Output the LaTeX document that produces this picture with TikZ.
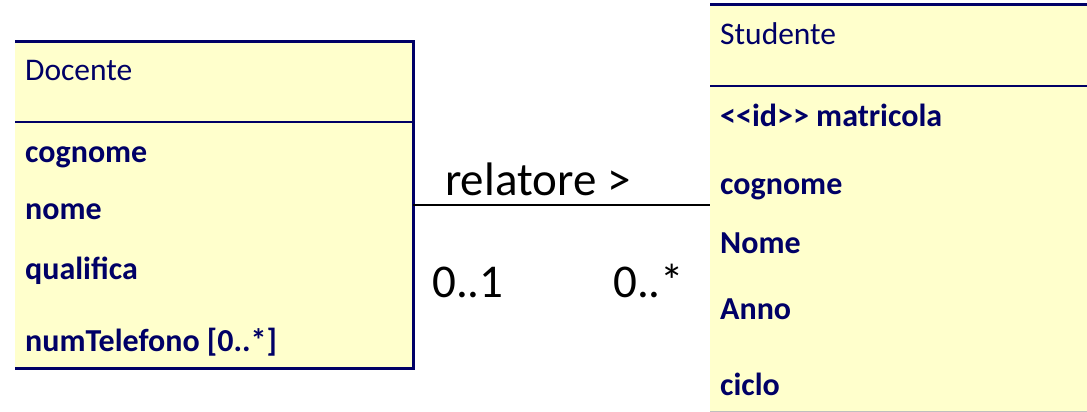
\documentclass[tikz,border=0pt]{standalone}
\usepackage{fontspec}
\setmainfont{Carlito}
\usetikzlibrary{positioning}
\definecolor{umlfill}{RGB}{255,255,204}
\definecolor{umlnavy}{RGB}{0,0,102}

\begin{document}
\begin{tikzpicture}[x=1pt,y=-1pt,
  classbox/.style={fill=umlfill,draw=none,inner sep=0pt,anchor=north west},
  border/.style={draw=umlnavy,line width=3pt},
  title/.style={anchor=base west,inner sep=0pt,text=umlnavy,font=\fontsize{31.5}{31.5}\selectfont},
  attr/.style={title,font=\fontsize{32}{32}\selectfont\bfseries},
  rolelabel/.style={anchor=base west,inner sep=0pt,font=\fontsize{47}{47}\selectfont}]
\useasboundingbox (0,0) rectangle (1087,412);
\node[classbox,minimum width=398pt,minimum height=326pt] (docente) at (15,42) {};
\node[classbox,minimum width=377pt,minimum height=406pt] (studente) at (710,5) {};
% class borders (left side not drawn)
\draw[border] (docente.north west) -- (docente.north east) -- (docente.south east) -- (docente.south west);
\draw[border,line width=2.5pt] (docente.west |- 0,122) -- (docente.east |- 0,122);
\draw[border] (studente.north west) -- (studente.north east);
\draw[border,line width=2.5pt] (studente.west |- 0,86) -- (studente.east |- 0,86);
\draw[gray!50,line width=1.5pt] (studente.south west) -- (studente.south east);
\begin{scope}
\node[title] (docname) at (25,81) {Docente};
\node[attr] (dcognome) at (25,162) {cognome};
\node[attr] (dnome) at (25,219) {nome};
\node[attr] (dqualifica) at (25,279) {qualifica};
\node[attr] (dtelefono) at (25,351) {numTelefono [0..*]};
\node[title] (stname) at (720,45) {Studente};
\node[attr] (smatricola) at (720,126) {<{}<id>{}> matricola};
\node[attr] (scognome) at (720,194) {cognome};
\node[attr] (snome) at (720,253) {Nome};
\node[attr] (sanno) at (720,319) {Anno};
\node[attr] (sciclo) at (720,395) {ciclo};
\end{scope}
\draw[line width=1.5pt] (docente.east) -- (docente.east -| studente.west);
\node[rolelabel] (relatore) at (445,195) {relatore >};
\node[rolelabel] (molt1) at (432,297) {0..1};
\node[rolelabel] (molt2) at (613,297) {0..*};
\end{tikzpicture}
\end{document}
